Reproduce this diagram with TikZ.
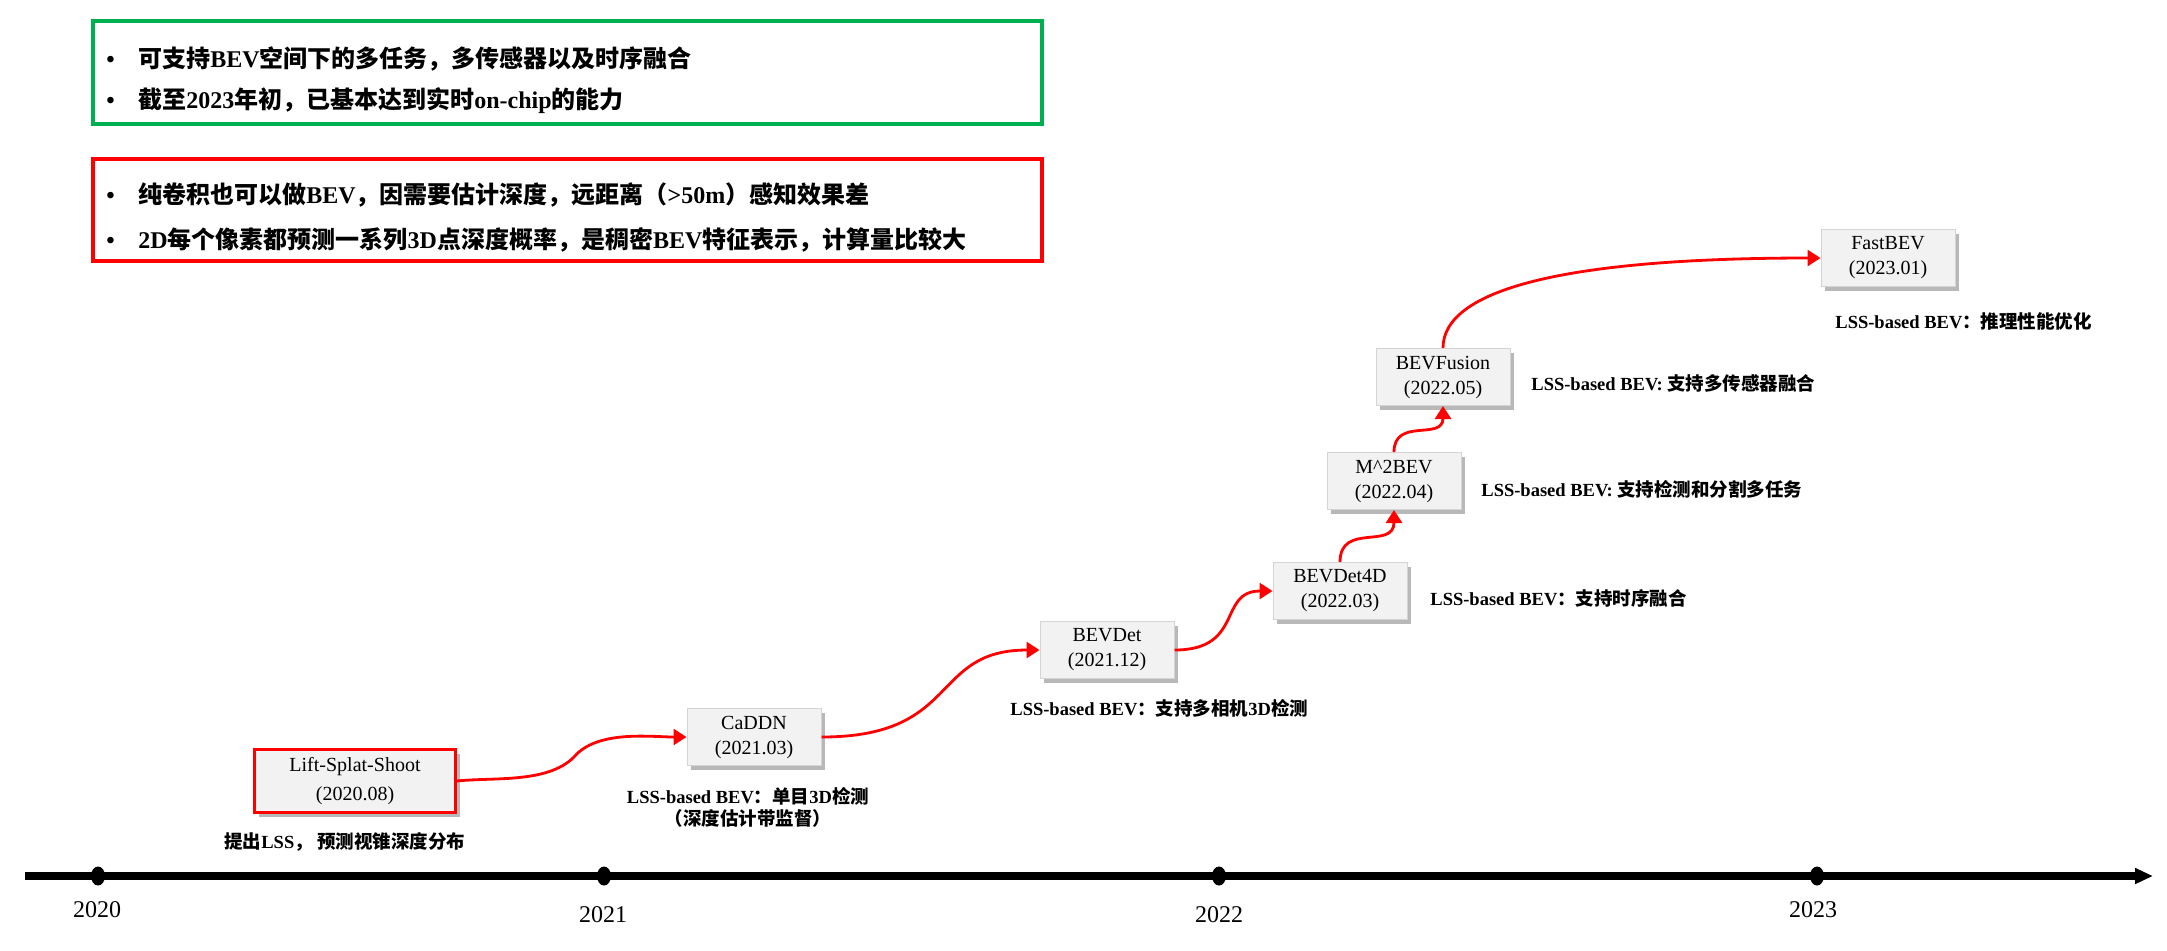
\documentclass[tikz,border=0pt]{standalone}
\usepackage{fontspec}
\setmainfont{Liberation Serif}
\newfontfamily\cjk{Noto Sans CJK SC}
\usetikzlibrary{arrows.meta,shadows,shapes.geometric}
\newcommand\zh[1]{{\cjk #1}}
\definecolor{boxgreen}{RGB}{0,176,80}
\definecolor{boxred}{RGB}{255,0,0}
\definecolor{boxfill}{RGB}{242,242,242}
\definecolor{boxedge}{RGB}{212,212,212}
\begin{document}
\begin{tikzpicture}[x=0.5pt,y=0.5pt,
  panel/.style={draw, line width=1.6pt, minimum width=474.5pt, inner sep=0pt},
  bullettext/.style={anchor=west, inner sep=0pt, font=\fontsize{12}{14}\selectfont\bfseries},
  stage/.style={draw=boxedge, line width=0.5pt, fill=boxfill, align=center,
    minimum width=67pt, minimum height=28.5pt, inner sep=0pt,
    font=\fontsize{10}{12.5}\selectfont,
    drop shadow={shadow xshift=2.2pt, shadow yshift=-2.2pt, fill=black, opacity=0.28}},
  firststage/.style={stage, draw=boxred, line width=1.1pt, minimum width=100.5pt, minimum height=31.5pt,
    font=\fontsize{10}{14.5}\selectfont},
  note/.style={anchor=west, inner sep=0pt, font=\fontsize{9.25}{11}\selectfont\bfseries},
  year/.style={inner sep=0pt, font=\fontsize{12}{14}\selectfont},
  tick/.style={fill=black, draw=none, ellipse, minimum width=7pt, minimum height=9.5pt, inner sep=0pt},
  link/.style={draw=boxred, line width=1.4pt, -{Triangle[length=6.5pt,width=8pt]}}
]
\useasboundingbox (0,0) rectangle (2167,-950);

% top panels
\node[panel, draw=boxgreen, minimum height=51.5pt] (greenpanel) at (567.5,-72.5) {};
\node[panel, draw=boxred, minimum height=51pt] (redpanel) at (567.5,-210) {};
\node[bullettext] (g1) at (106,-59) {\makebox[16pt][l]{•}\zh{可支持}BEV\zh{空间下的多任务，多传感器以及时序融合}};
\node[bullettext] (g2) at (106,-101) {\makebox[16pt][l]{•}\zh{截至}2023\zh{年初，已基本达到实时}on-chip\zh{的能力}};
\node[bullettext] (r1) at (106,-195) {\makebox[16pt][l]{•}\zh{纯卷积也可以做}BEV\zh{，因需要估计深度，远距离（}>50m\zh{）感知效果差}};
\node[bullettext] (r2) at (106,-240) {\makebox[16pt][l]{•}2D\zh{每个像素都预测一系列}3D\zh{点深度概率，是稠密}BEV\zh{特征表示，计算量比较大}};

% timeline
\coordinate (tlstart) at (25,-876);
\coordinate (tlend) at (2153,-876);
\draw[line width=4pt, -{Triangle[length=9pt,width=7.5pt]}] (tlstart) -- (tlend);
\node[tick] (t0) at (98,-876) {};
\node[tick] (t1) at (604,-876) {};
\node[tick] (t2) at (1219,-876) {};
\node[tick] (t3) at (1817,-876) {};
\node[year] (y0) at (97,-910) {2020};
\node[year] (y1) at (603,-915) {2021};
\node[year] (y2) at (1219,-915) {2022};
\node[year] (y3) at (1813,-910) {2023};

% stages
\node[firststage] (lss) at (355,-781) {Lift-Splat-Shoot\\(2020.08)};
\node[stage] (caddn) at (754,-737) {CaDDN\\(2021.03)};
\node[stage] (bevdet) at (1107,-650) {BEVDet\\(2021.12)};
\node[stage] (bevdetfour) at (1340,-591) {BEVDet4D\\(2022.03)};
\node[stage] (mtwobev) at (1394,-481) {M\^{}2BEV\\(2022.04)};
\node[stage] (bevfusion) at (1443,-377) {BEVFusion\\(2022.05)};
\node[stage] (fastbev) at (1888,-258) {FastBEV\\(2023.01)};

% notes
\node[note] (n1) at (224,-842) {\zh{提出}LSS\zh{，\ 预测视锥深度分布}};
\node[note, anchor=center, align=center, font=\fontsize{9.25}{11}\selectfont\bfseries] (n2) at (748,-807) {LSS-based BEV\zh{：单目}3D\zh{检测}\\\zh{（深度估计带监督）}};
\node[note] (n3) at (1010,-708) {LSS-based BEV\zh{：支持多相机}3D\zh{检测}};
\node[note] (n4) at (1430,-598) {LSS-based BEV\zh{：支持时序融合}};
\node[note] (n5) at (1481,-489) {LSS-based BEV: \zh{支持检测和分割多任务}};
\node[note] (n6) at (1531,-383) {LSS-based BEV: \zh{支持多传感器融合}};
\node[note] (n7) at (1835,-321) {LSS-based BEV\zh{：推理性能优化}};

% links
\coordinate (kinka) at (574,-757);
\draw[link] (lss.east) to[out=6,in=225,looseness=0.8] (kinka) to[out=50,in=180,looseness=0.8] (caddn.west);
\draw[link] (caddn.east) .. controls +(140,0) and +(-110,0) .. (bevdet.west);
\draw[link] (bevdet.east) .. controls +(70,0) and +(-55,0) .. (bevdetfour.west);
\draw[link] (bevdetfour.north) .. controls +(0,40) and +(0,-40) .. (mtwobev.south);
\draw[link] (mtwobev.north) .. controls +(0,35) and +(0,-35) .. (bevfusion.south);
\draw[link] (bevfusion.north) .. controls +(0,60) and +(-250,0) .. (fastbev.west);
\end{tikzpicture}
\end{document}
